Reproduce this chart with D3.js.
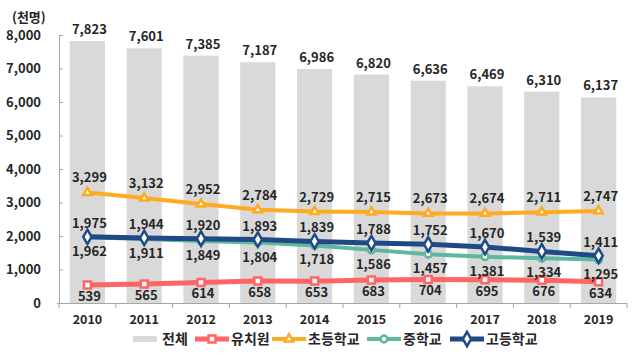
<!DOCTYPE html>
<html>
<head>
<meta charset="utf-8">
<script src="https://cdn.jsdelivr.net/npm/d3@7"></script>
<style>
  body { margin: 0; background: #fff; }
  text { font-family: "Noto Sans CJK KR", "Noto Sans", sans-serif; }
</style>
</head>
<body>
<div id="main"></div>
<script>
var years = ["2010", "2011", "2012", "2013", "2014", "2015", "2016", "2017", "2018", "2019"];
var total = [7823, 7601, 7385, 7187, 6986, 6820, 6636, 6469, 6310, 6137];
var kinder = [539, 565, 614, 658, 653, 683, 704, 695, 676, 634];
var elem = [3299, 3132, 2952, 2784, 2729, 2715, 2673, 2674, 2711, 2747];
var middle = [1962, 1911, 1849, 1804, 1718, 1586, 1457, 1381, 1334, 1295];
var high = [1975, 1944, 1920, 1893, 1839, 1788, 1752, 1670, 1539, 1411];
var yTicks = [0, 1000, 2000, 3000, 4000, 5000, 6000, 7000, 8000];

var width = 641, height = 359;
var svg = d3.select("#main").append("svg")
  .attr("width", width).attr("height", height);

var x = d3.scaleBand().domain(years).range([59, 627]).paddingInner(0.38).paddingOuter(0.19);
var y = d3.scaleLinear().domain([0, 8000]).range([303, 35]);
var fmt = d3.format(",");
function cx(i) { return x(years[i]) + x.bandwidth() / 2; }

// axes
var yAxis = svg.append("g").attr("transform", "translate(59,0)")
  .call(d3.axisLeft(y).tickValues(yTicks).tickSizeInner(-4).tickSizeOuter(0).tickFormat(fmt).tickPadding(18));
yAxis.select(".domain").attr("stroke", "#a6a6a6");
yAxis.selectAll(".tick line").attr("stroke", "#a6a6a6");
yAxis.selectAll("text").style("font-size", "13px").style("font-weight", "bold").attr("fill", "#262626");

// bars
svg.append("g").selectAll("rect").data(total).enter().append("rect")
  .attr("x", function (d, i) { return x(years[i]); })
  .attr("y", function (d) { return y(d); })
  .attr("width", x.bandwidth())
  .attr("height", function (d) { return y(0) - y(d); })
  .attr("fill", "#d9d9d9");

var xAxis = svg.append("g").attr("transform", "translate(0,303)")
  .call(d3.axisBottom(x).tickSize(0).tickPadding(12));
xAxis.select(".domain").attr("stroke", "#a6a6a6").attr("d", "M57,0.5H627");
xAxis.selectAll("text").style("font-size", "12.5px").style("font-weight", "bold").attr("fill", "#262626");
// category boundary ticks
var bounds = d3.range(years.length + 1).map(function (i) { return 59 + i * x.step(); });
xAxis.selectAll(".bound").data(bounds).enter().append("line")
  .attr("x1", function (d) { return d; }).attr("x2", function (d) { return d; })
  .attr("y1", 0).attr("y2", 5).attr("stroke", "#a6a6a6");

svg.append("text").text("(천명)").attr("x", 12).attr("y", 22)
  .style("font-size", "13px").style("font-weight", "bold").attr("fill", "#262626");

var series = [
  { name: "유치원", vals: kinder, color: "#ff6565", shape: d3.symbolSquare, size: 49, lw: 5, dy: 16 },
  { name: "초등학교", vals: elem, color: "#ffab1f", shape: d3.symbolTriangle, size: 30, lw: 4, dy: -10 },
  { name: "중학교", vals: middle, color: "#5cb8a0", shape: d3.symbolCircle, size: 36, lw: 4, dy: 19 },
  { name: "고등학교", vals: high, color: "#1f4a86", shape: d3.symbolDiamond, size: 60, lw: 5, dy: -9 }
];

var line = d3.line().x(function (d, i) { return cx(i); }).y(function (d) { return y(d); });

series.forEach(function (s) {
  var g = svg.append("g");
  g.append("path").datum(s.vals).attr("d", line)
    .attr("fill", "none").attr("stroke", s.color).attr("stroke-width", s.lw)
    .attr("stroke-linejoin", "round");
  g.selectAll("path.m").data(s.vals).enter().append("path").attr("class", "m")
    .attr("d", d3.symbol().type(s.shape).size(s.size))
    .attr("transform", function (d, i) { return "translate(" + cx(i) + "," + y(d) + ")"; })
    .attr("fill", "#fff").attr("stroke", s.color).attr("stroke-width", 2.5);
});

// data labels
function labels(vals, dy) {
  svg.append("g").selectAll("text").data(vals).enter().append("text")
    .text(function (d) { return fmt(d); })
    .attr("x", function (d, i) { return cx(i) + 2; })
    .attr("y", function (d) { return y(d) + dy; })
    .attr("text-anchor", "middle")
    .style("font-size", "13px").style("font-weight", "bold").attr("fill", "#262626");
}
labels(total, -7);
series.forEach(function (s) { labels(s.vals, s.dy); });

// legend
var legend = svg.append("g").attr("transform", "translate(0,339)");
legend.append("rect").attr("x", 133).attr("y", -3).attr("width", 24).attr("height", 6).attr("fill", "#d9d9d9");
legend.append("text").text("전체").attr("x", 162).attr("y", 5)
  .style("font-size", "14px").style("font-weight", "bold").attr("fill", "#262626");
var legendX = [195, 272, 367, 450];
series.forEach(function (s, i) {
  var lx = legendX[i];
  legend.append("line").attr("x1", lx).attr("x2", lx + 34).attr("y1", 0).attr("y2", 0)
    .attr("stroke", s.color).attr("stroke-width", s.lw);
  legend.append("path").attr("d", d3.symbol().type(s.shape).size(s.size))
    .attr("transform", "translate(" + (lx + 17) + ",0)")
    .attr("fill", "#fff").attr("stroke", s.color).attr("stroke-width", 2.5);
  legend.append("text").text(s.name).attr("x", lx + 36).attr("y", 5)
    .style("font-size", "14px").style("font-weight", "bold").attr("fill", "#262626");
});
</script>
</body>
</html>
